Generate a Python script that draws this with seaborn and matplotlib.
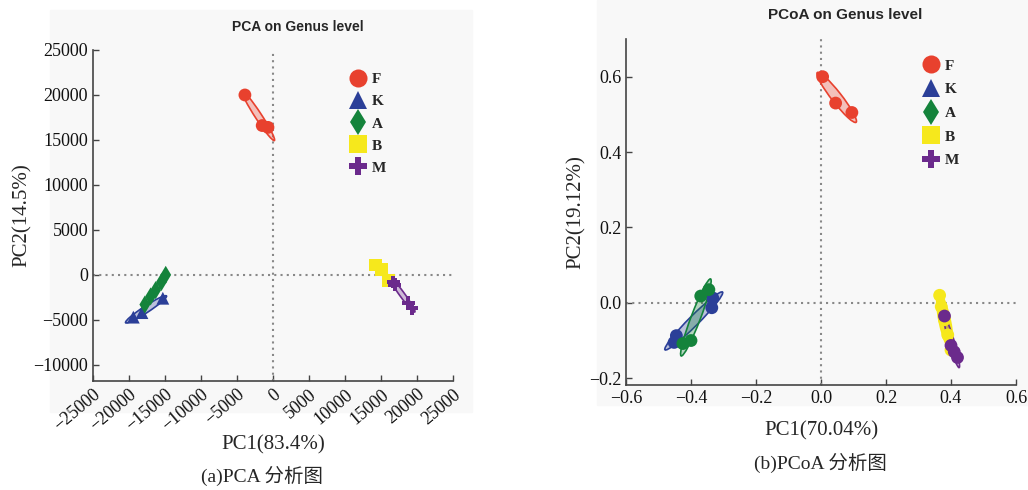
import numpy as np
import pandas as pd
import matplotlib
matplotlib.use("Agg")
import matplotlib.pyplot as plt
import seaborn as sns
from matplotlib.patches import Ellipse, Rectangle
from matplotlib.lines import Line2D

# ---------------- data ----------------
groups = ["F", "K", "A", "B", "M"]
colors = {"F": "#e8412e", "K": "#2b3f98", "A": "#14833b", "B": "#f6e81c", "M": "#6b2a8c"}
markers = {"F": "o", "K": "^", "A": "d", "B": "s", "M": "P"}

pca_group = ["F"] * 3 + ["K"] * 3 + ["A"] * 5 + ["B"] * 3 + ["M"] * 4
pca_pc1 = [-3900, -1500, -700,
           -19400, -18200, -15300,
           -17800, -17000, -16300, -15500, -14900,
           14200, 15100, 16000,
           16700, 16900, 18800, 19300]
pca_pc2 = [20000, 16600, 16400,
           -4700, -4200, -2600,
           -3300, -2400, -1700, -800, 0,
           1100, 600, -600,
           -800, -1100, -3100, -3700]

pcoa_group = ["F"] * 3 + ["K"] * 4 + ["A"] * 4 + ["B"] * 5 + ["M"] * 4
pcoa_pc1 = [0.005, 0.045, 0.095,
            -0.333, -0.336, -0.445, -0.452,
            -0.37, -0.345, -0.40, -0.425,
            0.365, 0.37, 0.38, 0.39, 0.40,
            0.38, 0.40, 0.41, 0.42]
pcoa_pc2 = [0.60, 0.53, 0.505,
            0.013, -0.013, -0.087, -0.105,
            0.018, 0.035, -0.10, -0.108,
            0.02, -0.01, -0.045, -0.085, -0.125,
            -0.035, -0.113, -0.13, -0.145]

pca_xlabel, pca_ylabel = "PC1(83.4%)", "PC2(14.5%)"
pcoa_xlabel, pcoa_ylabel = "PC1(70.04%)", "PC2(19.12%)"
pca_title, pcoa_title = "PCA on Genus level", "PCoA on Genus level"
cap_a, cap_b = "(a)PCA 分析图", "(b)PCoA 分析图"
pca_xticks = [-25000, -20000, -15000, -10000, -5000, 0, 5000, 10000, 15000, 20000, 25000]
pca_yticks = [-10000, -5000, 0, 5000, 10000, 15000, 20000, 25000]
pcoa_xticks = [-0.6, -0.4, -0.2, 0.0, 0.2, 0.4, 0.6]
pcoa_yticks = [-0.2, 0.0, 0.2, 0.4, 0.6]

df1 = pd.DataFrame({"PC1": pca_pc1, "PC2": pca_pc2, "group": pca_group})
df2 = pd.DataFrame({"PC1": pcoa_pc1, "PC2": pcoa_pc2, "group": pcoa_group})

# ---------------- style ----------------
sns.set_theme(style="ticks")
plt.rcParams["font.family"] = ["Liberation Serif", "Noto Sans CJK SC", "DejaVu Sans"]
plt.rcParams["axes.unicode_minus"] = True

fig = plt.figure(figsize=(10.28, 4.90), dpi=100)

# light panel backgrounds
fig.patches.append(Rectangle((50 / 1028, 1 - 412 / 490), 422 / 1028, 402 / 490,
                             transform=fig.transFigure, color="#f8f8f8", zorder=-10))
fig.patches.append(Rectangle((597 / 1028, 1 - 405 / 490), 431 / 1028, 405 / 490,
                             transform=fig.transFigure, color="#f8f8f8", zorder=-10))

ax1 = fig.add_axes([93 / 1028, 1 - 381 / 490, 360 / 1028, 331 / 490])
ax2 = fig.add_axes([626 / 1028, 1 - 385 / 490, 390 / 1028, 346 / 490])


def conf_ellipse(ax, x, y, color, n_std=1.5, alpha=0.3, minor_ratio=0.12, ec=None):
    x = np.asarray(x, float)
    y = np.asarray(y, float)
    cov = np.cov(x, y)
    vals, vecs = np.linalg.eigh(cov)
    order = vals.argsort()[::-1]
    vals, vecs = vals[order], vecs[:, order]
    angle = np.degrees(np.arctan2(vecs[1, 0], vecs[0, 0]))
    w = 2 * n_std * np.sqrt(max(vals[0], 0))
    h = 2 * n_std * np.sqrt(max(vals[1], 0))
    h = max(h, w * minor_ratio)
    e = Ellipse((x.mean(), y.mean()), w, h, angle=angle, facecolor=color, alpha=alpha,
                edgecolor="none", zorder=2)
    ax.add_patch(e)
    e2 = Ellipse((x.mean(), y.mean()), w, h, angle=angle, facecolor="none",
                 edgecolor=ec or color, lw=1.2, zorder=2)
    ax.add_patch(e2)


for ax in (ax1, ax2):
    ax.set_facecolor("none")
    for s in ("top", "right"):
        ax.spines[s].set_visible(False)
    for s in ("left", "bottom"):
        ax.spines[s].set_color("#444444")
        ax.spines[s].set_linewidth(1.2)
    ax.tick_params(direction="in", length=4, width=1.0, color="#444444",
                   labelsize=13, labelcolor="#111111")

# ---------- left: PCA ----------
ax1.set_xlim(-25000, 25000)
ax1.set_ylim(-11800, 25000)
ax1.axvline(0, color="#888888", ls=(0, (1, 2)), lw=1.5, zorder=1)
ax1.axhline(0, color="#888888", ls=(0, (1, 2)), lw=1.5, zorder=1)
for g in groups:
    d = df1[df1.group == g]
    conf_ellipse(ax1, d.PC1, d.PC2, colors[g], n_std=1.35)
sns.scatterplot(data=df1, x="PC1", y="PC2", hue="group", style="group",
                palette=colors, markers=markers, s=85, linewidth=0,
                legend=False, ax=ax1, zorder=3)
ax1.set_xticks(pca_xticks)
ax1.set_yticks(pca_yticks)
ax1.set_xticklabels([f"{v}".replace("-", "\u2212") for v in pca_xticks],
                    rotation=40, ha="right", rotation_mode="anchor")
ax1.set_yticklabels([f"{v}".replace("-", "\u2212") for v in pca_yticks])
ax1.set_xlabel(pca_xlabel, fontsize=15, labelpad=1)
ax1.set_ylabel(pca_ylabel, fontsize=15, labelpad=1)

# ---------- right: PCoA ----------
ax2.set_xlim(-0.6, 0.6)
ax2.set_ylim(-0.218, 0.7)
ax2.axvline(0, color="#888888", ls=(0, (1, 2)), lw=1.5, zorder=1)
ax2.axhline(0, color="#888888", ls=(0, (1, 2)), lw=1.5, zorder=1)
for g in groups:
    d = df2[df2.group == g]
    if g == "B":
        conf_ellipse(ax2, d.PC1, d.PC2, colors[g], n_std=1.3, alpha=0.95,
                     minor_ratio=0.22)
    else:
        conf_ellipse(ax2, d.PC1, d.PC2, colors[g], n_std=1.35, alpha=0.3)
sns.scatterplot(data=df2, x="PC1", y="PC2", hue="group",
                palette=colors, marker="o", s=85, linewidth=0,
                legend=False, ax=ax2, zorder=3)
ax2.set_xticks(pcoa_xticks)
ax2.set_yticks(pcoa_yticks)
ax2.set_xticklabels([f"{v:.1f}".replace("-", "\u2212") for v in pcoa_xticks])
ax2.set_yticklabels([f"{v:.1f}".replace("-", "\u2212") for v in pcoa_yticks])
ax2.set_xlabel(pcoa_xlabel, fontsize=15, labelpad=10)
ax2.set_ylabel(pcoa_ylabel, fontsize=15, labelpad=2)

# ---------- legends ----------
handles = [Line2D([], [], marker=markers[g], color=colors[g], linestyle="",
                  markersize=13, markeredgewidth=0, label=g) for g in groups]
leg_prop = dict(family="Liberation Serif", weight="bold", size=11)
ax1.legend(handles=handles, loc="upper left", bbox_to_anchor=(0.69, 0.95),
           frameon=False, prop=leg_prop, handletextpad=0.2, handlelength=1.4,
           labelspacing=0.55, borderaxespad=0)
ax2.legend(handles=handles, loc="upper left", bbox_to_anchor=(0.74, 0.96),
           frameon=False, prop=leg_prop, handletextpad=0.2, handlelength=1.4,
           labelspacing=0.65, borderaxespad=0)

# ---------- titles & captions ----------
fig.text(298 / 1028, 1 - 27 / 490, pca_title, ha="center", va="center",
         family="Liberation Sans", weight="bold", fontsize=10)
fig.text(845 / 1028, 1 - 15 / 490, pcoa_title, ha="center", va="center",
         family="Liberation Sans", weight="bold", fontsize=11)
fig.text(262 / 1028, 1 - 476 / 490, cap_a, ha="center", va="center", fontsize=14)
fig.text(820 / 1028, 1 - 463 / 490, cap_b, ha="center", va="center", fontsize=14)

fig.savefig("out.png", dpi=100)
